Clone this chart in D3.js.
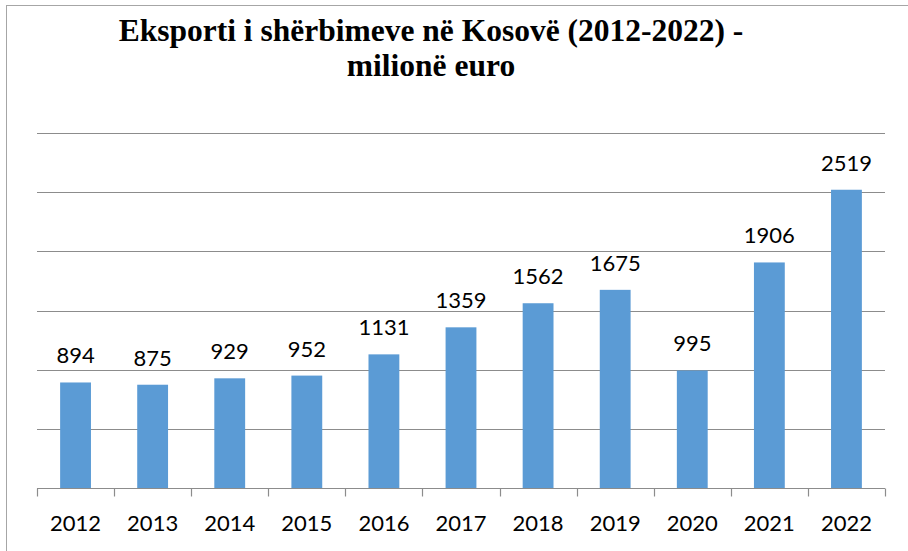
<!DOCTYPE html>
<html>
<head>
<meta charset="utf-8">
<script src="https://cdn.jsdelivr.net/npm/d3@7"></script>
<style>
  html, body { margin: 0; padding: 0; background: #fff; }
  svg { display: block; }
</style>
</head>
<body>
<script>
var years = ["2012", "2013", "2014", "2015", "2016", "2017", "2018", "2019", "2020", "2021", "2022"];
var exportsValues = [894, 875, 929, 952, 1131, 1359, 1562, 1675, 995, 1906, 2519];
var gridTicks = [500, 1000, 1500, 2000, 2500, 3000];
var titleLines = ["Eksporti i shërbimeve në Kosovë (2012-2022) -", "milionë euro"];

var w = 908,
    h = 551;

var svg = d3.select("body").append("svg")
    .attr("width", w)
    .attr("height", h);

// chart frame
svg.append("rect")
    .attr("x", 6.5)
    .attr("y", 5.5)
    .attr("width", w)
    .attr("height", h)
    .attr("fill", "#fff")
    .attr("stroke", "#a6a6a6")
    .attr("stroke-width", 1);

var x = d3.scaleBand()
    .domain(years)
    .range([37, 885])
    .paddingInner(0.6)
    .paddingOuter(0.3);

var y = d3.scaleLinear()
    .domain([0, 3000])
    .range([488.5, 132.7]);

// gridlines
svg.append("g")
  .selectAll("line")
  .data(gridTicks)
  .enter().append("line")
    .attr("x1", 37)
    .attr("x2", 885)
    .attr("y1", function(d) { return Math.round(y(d)) + 0.5; })
    .attr("y2", function(d) { return Math.round(y(d)) + 0.5; })
    .attr("stroke", "#8c8c8c")
    .attr("stroke-width", 1.2);

// bars
svg.append("g")
  .selectAll("rect")
  .data(exportsValues)
  .enter().append("rect")
    .attr("x", function(d, i) { return x(years[i]); })
    .attr("y", function(d) { return y(d); })
    .attr("width", x.bandwidth())
    .attr("height", function(d) { return y(0) - y(d); })
    .attr("fill", "#5b9bd5");

// x axis
var xAxis = svg.append("g")
    .attr("transform", "translate(0," + 488.5 + ")");

xAxis.append("line")
    .attr("x1", 37).attr("x2", 885)
    .attr("stroke", "#8c8c8c")
    .attr("stroke-width", 1.2);

var step = (885 - 37) / years.length;
xAxis.selectAll("line.tick")
  .data(d3.range(years.length + 1))
  .enter().append("line")
    .attr("class", "tick")
    .attr("x1", function(d) { return Math.round(37 + d * step) + 0.5; })
    .attr("x2", function(d) { return Math.round(37 + d * step) + 0.5; })
    .attr("y1", 0)
    .attr("y2", 8)
    .attr("stroke", "#8c8c8c")
    .attr("stroke-width", 1.2);

xAxis.selectAll("text")
  .data(years)
  .enter().append("text")
    .attr("x", function(d) { return x(d) + x.bandwidth() / 2; })
    .attr("y", 42.5)
    .attr("text-anchor", "middle")
    .attr("font-family", "Lato, 'Open Sans', sans-serif")
    .attr("font-size", 22)
    .attr("fill", "#000")
    .text(function(d) { return d; });

// value labels
svg.append("g")
  .selectAll("text")
  .data(exportsValues)
  .enter().append("text")
    .attr("x", function(d, i) { return x(years[i]) + x.bandwidth() / 2; })
    .attr("y", function(d) { return y(d) - 19; })
    .attr("text-anchor", "middle")
    .attr("font-family", "Lato, 'Open Sans', sans-serif")
    .attr("font-size", 22)
    .attr("fill", "#000")
    .text(function(d) { return d; });

// title
svg.append("g")
  .selectAll("text")
  .data(titleLines)
  .enter().append("text")
    .attr("x", 431)
    .attr("y", function(d, i) { return 41 + i * 35; })
    .attr("text-anchor", "middle")
    .attr("font-family", "'Liberation Serif', 'Times New Roman', serif")
    .attr("font-weight", "bold")
    .attr("font-size", 31.5)
    .attr("fill", "#000")
    .text(function(d) { return d; });
</script>
</body>
</html>
